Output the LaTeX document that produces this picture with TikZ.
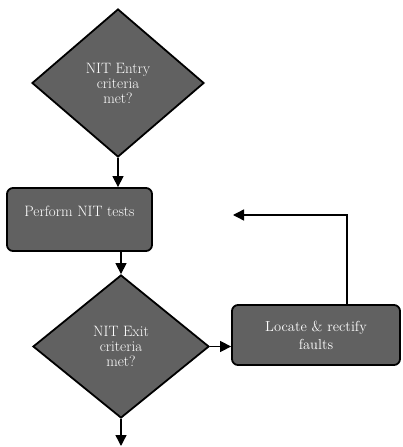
\documentclass[tikz,border=0pt]{standalone}
\usetikzlibrary{shapes.geometric,arrows.meta}
\tikzset{
  greybox/.style={fill=black!62, draw=black, line width=1.8pt, text=white,
    font=\fontsize{15}{15}\selectfont, align=center, inner sep=0pt},
  decision/.style={greybox, diamond},
  stepbox/.style={greybox, rectangle, rounded corners=6pt},
  arr/.style={line width=1.4pt, -{Triangle[length=11pt,width=11pt]}},
}
\begin{document}
\begin{tikzpicture}[x=1pt,y=-1pt]
\useasboundingbox (0,0) rectangle (402,447);
\node[decision, minimum width=172pt, minimum height=148pt] (d1) at (118,83) {NIT Entry\\criteria\\met?};
\node[stepbox, minimum width=145pt, minimum height=63pt, text depth=16pt] (b1) at (79.5,219.5) {Perform NIT tests};
\node[decision, minimum width=176pt, minimum height=143pt] (d2) at (121,346.5) {NIT Exit\\criteria\\met?};
\node[stepbox, minimum width=168pt, minimum height=60pt, font=\fontsize{14.5}{18}\selectfont] (b2) at (316,335) {Locate \& rectify\\faults};
\coordinate (ret) at (233,215);
\coordinate (out) at (121,446);
\draw[arr] (d1.south) -- (d1.south |- b1.north);
\draw[arr] (b1.south -| d2.north) -- (d2.north);
\draw[arr] (d2.east) -- (b2.west |- d2.east);
\draw[arr] ([xshift=31pt]b2.north) |- (ret);
\draw[arr] (d2.south) -- (out);
\end{tikzpicture}
\end{document}
